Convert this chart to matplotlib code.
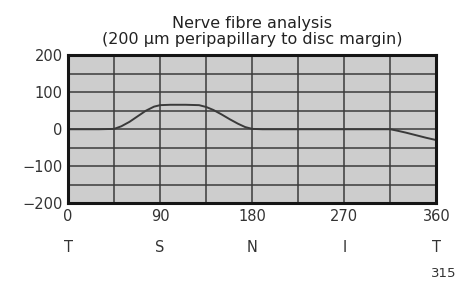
import matplotlib
matplotlib.use('Agg')
import matplotlib.pyplot as plt

# nerve fibre profile (degrees -> microns)
angle = [0, 30, 45, 52, 60, 68, 76, 84, 90, 100, 115, 128, 135, 142, 150, 158, 166, 173, 180, 190,
         270, 315, 322, 330, 340, 350, 358]
thickness = [0, 0, 1, 8, 20, 35, 50, 61, 65, 66, 66, 65, 60, 52, 40, 27, 15, 6, 1, 0,
             0, 0, -4, -9, -16, -23, -28]
xticks = [0, 90, 180, 270, 360]
quadrants = ['T', 'S', 'N', 'I', 'T']
yticks = [200, 100, 0, -100, -200]

fig = plt.figure(figsize=(4.57, 2.81), dpi=100)
ax = fig.add_axes([0.149, 0.276, 0.806, 0.528])
ax.set_facecolor('#cdcdcd')
ax.set_xlim(0, 360)
ax.set_ylim(-200, 200)

# grid every 45 degrees / 50 microns
for gx in range(45, 360, 45):
    ax.axvline(gx, color='#3c3c3c', lw=1.1, zorder=1)
for gy in range(-150, 200, 50):
    ax.axhline(gy, color='#3c3c3c', lw=1.1, zorder=1)

ax.plot(angle, thickness, color='#3a3a3a', lw=1.4, zorder=2)

for s in ax.spines.values():
    s.set_linewidth(2.2)
    s.set_color('#151515')

ax.set_xticks(xticks)
ax.set_xticklabels([str(t) for t in xticks])
ax.set_yticks(yticks)
ax.set_yticklabels([str(t).replace('-', '\u2212') for t in yticks])
ax.tick_params(length=0, labelsize=10.5, colors='#333333')
ax.tick_params(axis='x', pad=4)
ax.tick_params(axis='y', pad=4)

for xv, q in zip(xticks, quadrants):
    ax.annotate(q, xy=(xv, 0), xycoords=('data', 'axes fraction'),
                xytext=(0, -32), textcoords='offset points',
                ha='center', va='center', fontsize=10.5, color='#333333')

ax.set_title('Nerve fibre analysis\n(200 \u00b5m peripapillary to disc margin)',
             fontsize=11.5, color='#222222', pad=8, linespacing=1.1)

fig.text(0.998, 0.028, '315', ha='right', va='center', fontsize=9.5, color='#333333')

fig.savefig('out.png', dpi=100)
